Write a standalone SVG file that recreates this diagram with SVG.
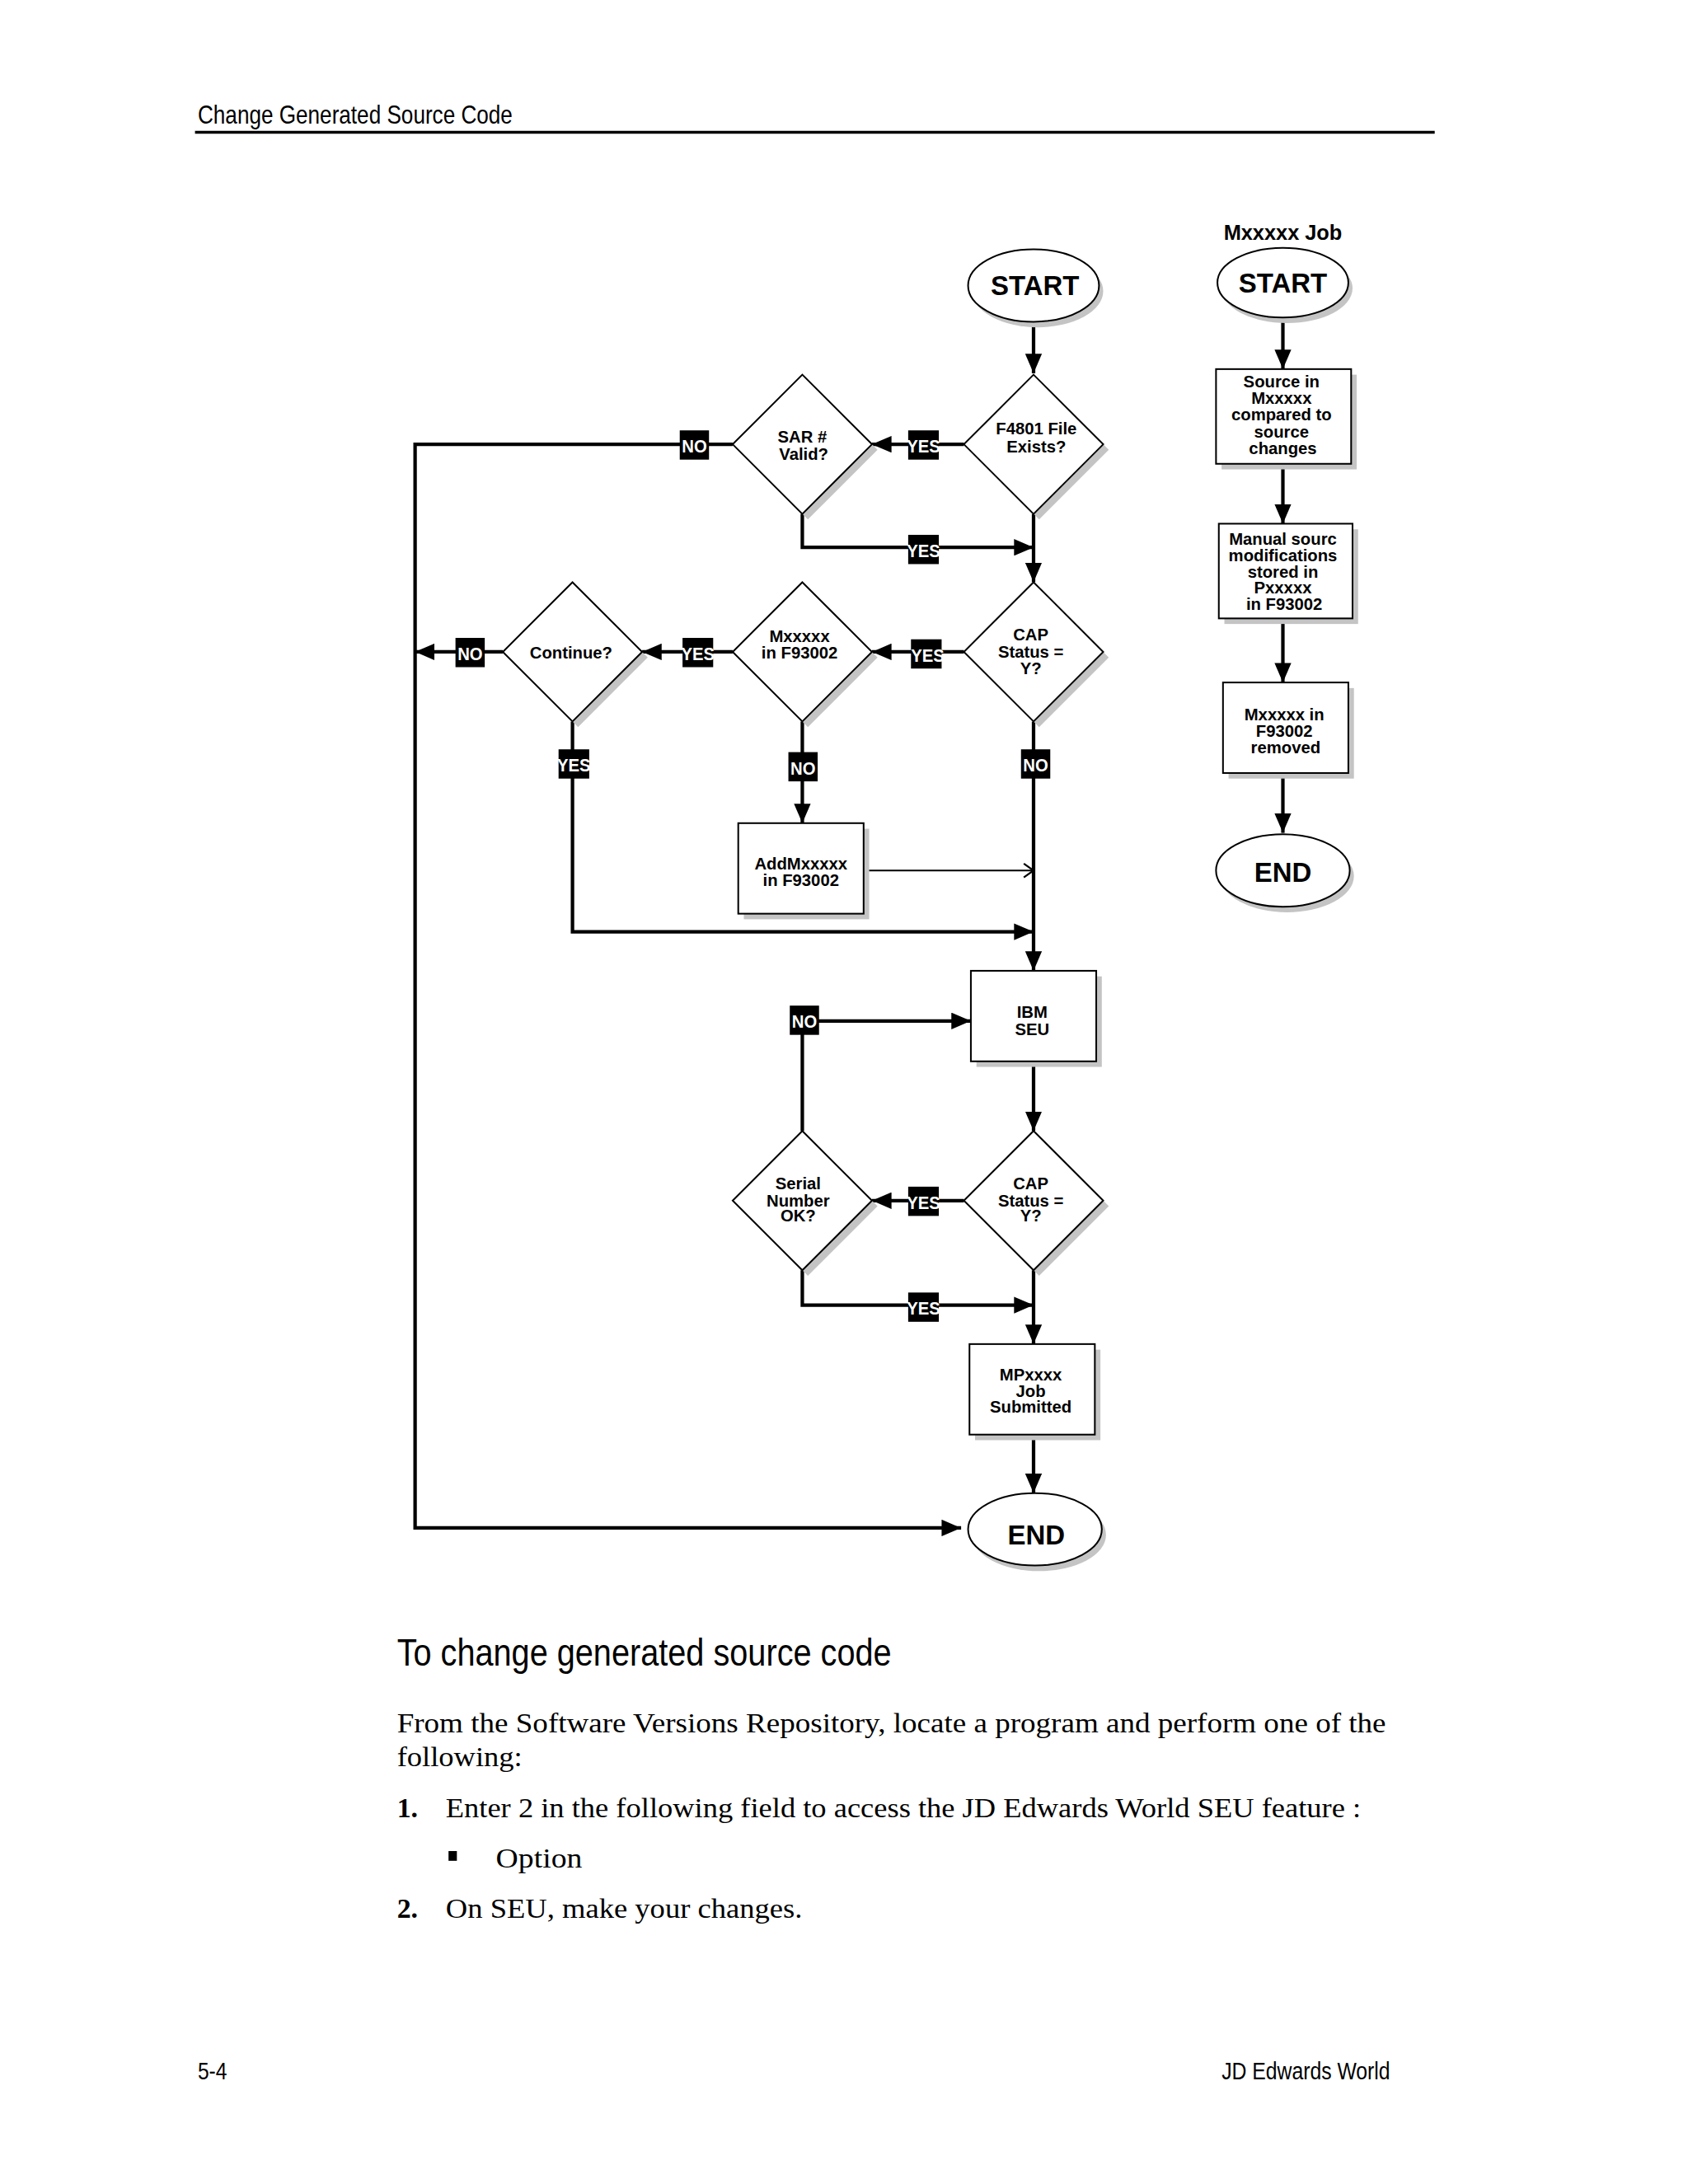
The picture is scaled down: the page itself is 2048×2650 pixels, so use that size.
<svg xmlns="http://www.w3.org/2000/svg" width="2048" height="2650" viewBox="0 0 2048 2650">
<defs>
<style>
.shape{fill:#fff;stroke:#000;stroke-width:1.2}
.sh{fill:#c4c4c4}
.c{fill:none;stroke:#000;stroke-width:2.5}
.thin{fill:none;stroke:#000;stroke-width:1.3}
.t{font-family:"Liberation Sans",Arial,sans-serif;font-weight:bold;font-size:12px;text-anchor:middle;fill:#000}
.big{font-size:19.5px}
.ttl{font-size:15px}
.lb{fill:#000}
.lt{font-family:"Liberation Sans",Arial,sans-serif;font-weight:bold;font-size:13px;fill:#fff;text-anchor:middle}
.hd{font-family:"Liberation Sans",Arial,sans-serif;fill:#000}
.body{font-family:"Liberation Serif","Times New Roman",serif;font-size:20px;fill:#000}
</style>
<marker id="ah" markerUnits="userSpaceOnUse" markerWidth="14" markerHeight="12" refX="14" refY="6" orient="auto" viewBox="0 0 14 12"><path d="M0,0 L14,6 L0,12 z" fill="#000"/></marker>
<marker id="oh" markerUnits="userSpaceOnUse" markerWidth="10" markerHeight="12" refX="9" refY="6" orient="auto" viewBox="0 0 10 12"><path d="M2,1 L9,6 L2,11" fill="none" stroke="#000" stroke-width="1.3"/></marker>
</defs>
<rect width="2048" height="2650" fill="#fff"/>
<g transform="scale(1.690)">

<g id="page-header">
<text class="hd" x="142" y="89" font-size="19" textLength="226" lengthAdjust="spacingAndGlyphs">Change Generated Source Code</text>
<line x1="140" y1="95" x2="1030" y2="95" stroke="#000" stroke-width="2"/>
</g>

<g id="connectors">
<path class="c" d="M742,231 L742,268" marker-end="url(#ah)"/>
<path class="c" d="M692,319 L626,319" marker-end="url(#ah)"/>
<path class="c" d="M576,369 L576,393 L742,393" marker-end="url(#ah)"/>
<path class="c" d="M742,369 L742,418" marker-end="url(#ah)"/>
<path class="c" d="M692,468 L626,468" marker-end="url(#ah)"/>
<path class="c" d="M526,468 L461,468" marker-end="url(#ah)"/>
<path class="c" d="M361,468 L298,468" marker-end="url(#ah)"/>
<path class="c" d="M411,518 L411,669 L742,669" marker-end="url(#ah)"/>
<path class="c" d="M576,518 L576,591" marker-end="url(#ah)"/>
<path class="thin" d="M621,625 L742,625" marker-end="url(#oh)"/>
<path class="c" d="M742,518 L742,697" marker-end="url(#ah)"/>
<path class="c" d="M742,762 L742,812" marker-end="url(#ah)"/>
<path class="c" d="M692,862 L626,862" marker-end="url(#ah)"/>
<path class="c" d="M576,812 L576,733 L697,733" marker-end="url(#ah)"/>
<path class="c" d="M576,912 L576,937 L742,937" marker-end="url(#ah)"/>
<path class="c" d="M742,912 L742,965" marker-end="url(#ah)"/>
<path class="c" d="M742,1030 L742,1072" marker-end="url(#ah)"/>
<path class="c" d="M526,319 L298,319 L298,1097 L690,1097" marker-end="url(#ah)"/>
<path class="c" d="M921,228 L921,265" marker-end="url(#ah)"/>
<path class="c" d="M921,333 L921,376" marker-end="url(#ah)"/>
<path class="c" d="M921,444 L921,490" marker-end="url(#ah)"/>
<path class="c" d="M921,555 L921,598" marker-end="url(#ah)"/>
</g>

<g id="labels">
<rect class="lb" x="488" y="309" width="21" height="21"/><text class="lt" x="498.5" y="325" textLength="18" lengthAdjust="spacingAndGlyphs">NO</text>
<rect class="lb" x="652" y="309" width="22" height="21"/><text class="lt" x="663" y="325" textLength="24" lengthAdjust="spacingAndGlyphs">YES</text>
<rect class="lb" x="652" y="384" width="22" height="21"/><text class="lt" x="663" y="400" textLength="24" lengthAdjust="spacingAndGlyphs">YES</text>
<rect class="lb" x="654" y="459" width="22" height="21"/><text class="lt" x="666" y="475" textLength="24" lengthAdjust="spacingAndGlyphs">YES</text>
<rect class="lb" x="490" y="458" width="22" height="21"/><text class="lt" x="501" y="474" textLength="24" lengthAdjust="spacingAndGlyphs">YES</text>
<rect class="lb" x="327" y="458" width="21" height="21"/><text class="lt" x="337.5" y="474" textLength="18" lengthAdjust="spacingAndGlyphs">NO</text>
<rect class="lb" x="401" y="538" width="22" height="21"/><text class="lt" x="412" y="554" textLength="24" lengthAdjust="spacingAndGlyphs">YES</text>
<rect class="lb" x="566" y="540" width="21" height="21"/><text class="lt" x="576.5" y="556" textLength="18" lengthAdjust="spacingAndGlyphs">NO</text>
<rect class="lb" x="733" y="538" width="21" height="21"/><text class="lt" x="743.5" y="554" textLength="18" lengthAdjust="spacingAndGlyphs">NO</text>
<rect class="lb" x="567" y="722" width="21" height="21"/><text class="lt" x="577.5" y="738" textLength="18" lengthAdjust="spacingAndGlyphs">NO</text>
<rect class="lb" x="652" y="852" width="22" height="21"/><text class="lt" x="663" y="868" textLength="24" lengthAdjust="spacingAndGlyphs">YES</text>
<rect class="lb" x="652" y="928" width="22" height="21"/><text class="lt" x="663" y="944" textLength="24" lengthAdjust="spacingAndGlyphs">YES</text>
</g>

<g id="n-start">
<ellipse class="sh" cx="745" cy="209" rx="47" ry="26"/>
<ellipse class="shape" cx="742" cy="205" rx="47" ry="26"/>
<text class="t big" x="743" y="212">START</text>
</g>
<g id="n-f4801">
<polygon class="sh" points="746,273 796,323 746,373 696,323"/>
<polygon class="shape" points="742,269 792,319 742,369 692,319"/>
<text class="t" x="744" y="312">F4801 File</text>
<text class="t" x="744" y="325">Exists?</text>
</g>
<g id="n-sar">
<polygon class="sh" points="580,273 630,323 580,373 530,323"/>
<polygon class="shape" points="576,269 626,319 576,369 526,319"/>
<text class="t" x="576" y="318">SAR #</text>
<text class="t" x="577" y="330">Valid?</text>
</g>
<g id="n-cap1">
<polygon class="sh" points="746,422 796,472 746,522 696,472"/>
<polygon class="shape" points="742,418 792,468 742,518 692,468"/>
<text class="t" x="740" y="460">CAP</text>
<text class="t" x="740" y="472">Status =</text>
<text class="t" x="740" y="484">Y?</text>
</g>
<g id="n-mx">
<polygon class="sh" points="580,422 630,472 580,522 530,472"/>
<polygon class="shape" points="576,418 626,468 576,518 526,468"/>
<text class="t" x="574" y="461">Mxxxxx</text>
<text class="t" x="574" y="473">in F93002</text>
</g>
<g id="n-continue">
<polygon class="sh" points="415,422 465,472 415,522 365,472"/>
<polygon class="shape" points="411,418 461,468 411,518 361,468"/>
<text class="t" x="410" y="473">Continue?</text>
</g>
<g id="n-addmx">
<rect class="sh" x="534" y="595" width="90" height="65"/>
<rect class="shape" x="530" y="591" width="90" height="65"/>
<text class="t" x="575" y="624">AddMxxxxx</text>
<text class="t" x="575" y="636">in F93002</text>
</g>
<g id="n-seu">
<rect class="sh" x="701" y="701" width="90" height="65"/>
<rect class="shape" x="697" y="697" width="90" height="65"/>
<text class="t" x="741" y="731">IBM</text>
<text class="t" x="741" y="743">SEU</text>
</g>
<g id="n-cap2">
<polygon class="sh" points="746,816 796,866 746,916 696,866"/>
<polygon class="shape" points="742,812 792,862 742,912 692,862"/>
<text class="t" x="740" y="854">CAP</text>
<text class="t" x="740" y="866">Status =</text>
<text class="t" x="740" y="877">Y?</text>
</g>
<g id="n-serial">
<polygon class="sh" points="580,816 630,866 580,916 530,866"/>
<polygon class="shape" points="576,812 626,862 576,912 526,862"/>
<text class="t" x="573" y="854">Serial</text>
<text class="t" x="573" y="866">Number</text>
<text class="t" x="573" y="877">OK?</text>
</g>
<g id="n-mp">
<rect class="sh" x="700" y="969" width="90" height="65"/>
<rect class="shape" x="696" y="965" width="90" height="65"/>
<text class="t" x="740" y="991">MPxxxx</text>
<text class="t" x="740" y="1003">Job</text>
<text class="t" x="740" y="1014">Submitted</text>
</g>
<g id="n-end">
<ellipse class="sh" cx="746" cy="1102" rx="48" ry="26"/>
<ellipse class="shape" cx="743" cy="1098" rx="48" ry="26"/>
<text class="t big" x="744" y="1109">END</text>
</g>

<g id="job-title"><text class="t ttl" x="921" y="172">Mxxxxx Job</text></g>
<g id="j-start">
<ellipse class="sh" cx="924" cy="207" rx="47" ry="25"/>
<ellipse class="shape" cx="921" cy="203" rx="47" ry="25"/>
<text class="t big" x="921" y="210">START</text>
</g>
<g id="j-source">
<rect class="sh" x="877" y="269" width="97" height="68"/>
<rect class="shape" x="873" y="265" width="97" height="68"/>
<text class="t" x="920" y="278">Source in</text>
<text class="t" x="920" y="290">Mxxxxx</text>
<text class="t" x="920" y="302">compared to</text>
<text class="t" x="920" y="314">source</text>
<text class="t" x="921" y="326">changes</text>
</g>
<g id="j-manual">
<rect class="sh" x="879" y="380" width="96" height="68"/>
<rect class="shape" x="875" y="376" width="96" height="68"/>
<text class="t" x="921" y="391">Manual sourc</text>
<text class="t" x="921" y="403">modifications</text>
<text class="t" x="921" y="415">stored in</text>
<text class="t" x="921" y="426">Pxxxxx</text>
<text class="t" x="922" y="438">in F93002</text>
</g>
<g id="j-removed">
<rect class="sh" x="882" y="494" width="90" height="65"/>
<rect class="shape" x="878" y="490" width="90" height="65"/>
<text class="t" x="922" y="517">Mxxxxx in</text>
<text class="t" x="922" y="529">F93002</text>
<text class="t" x="923" y="541">removed</text>
</g>
<g id="j-end">
<ellipse class="sh" cx="924" cy="629" rx="48" ry="26"/>
<ellipse class="shape" cx="921" cy="625" rx="48" ry="26"/>
<text class="t big" x="921" y="633">END</text>
</g>

<g id="body-text">
<text class="hd" x="285" y="1196" font-size="27" textLength="355" lengthAdjust="spacingAndGlyphs">To change generated source code</text>
<text class="body" x="285" y="1244" textLength="710" lengthAdjust="spacingAndGlyphs">From the Software Versions Repository, locate a program and perform one of the</text>
<text class="body" x="285" y="1268" textLength="90" lengthAdjust="spacingAndGlyphs">following:</text>
<text class="body" x="285" y="1305" font-weight="bold">1.</text>
<text class="body" x="320" y="1305" textLength="657" lengthAdjust="spacingAndGlyphs">Enter 2 in the following field to access the JD Edwards World SEU feature :</text>
<rect x="322" y="1329" width="6" height="7" fill="#000"/>
<text class="body" x="356" y="1341" textLength="62" lengthAdjust="spacingAndGlyphs">Option</text>
<text class="body" x="285" y="1377" font-weight="bold">2.</text>
<text class="body" x="320" y="1377" textLength="256" lengthAdjust="spacingAndGlyphs">On SEU, make your changes.</text>
</g>

<g id="page-footer">
<text class="hd" x="142" y="1493" font-size="17" textLength="21" lengthAdjust="spacingAndGlyphs">5-4</text>
<text class="hd" x="877" y="1493" font-size="17" textLength="121" lengthAdjust="spacingAndGlyphs">JD Edwards World</text>
</g>

</g>
</svg>
